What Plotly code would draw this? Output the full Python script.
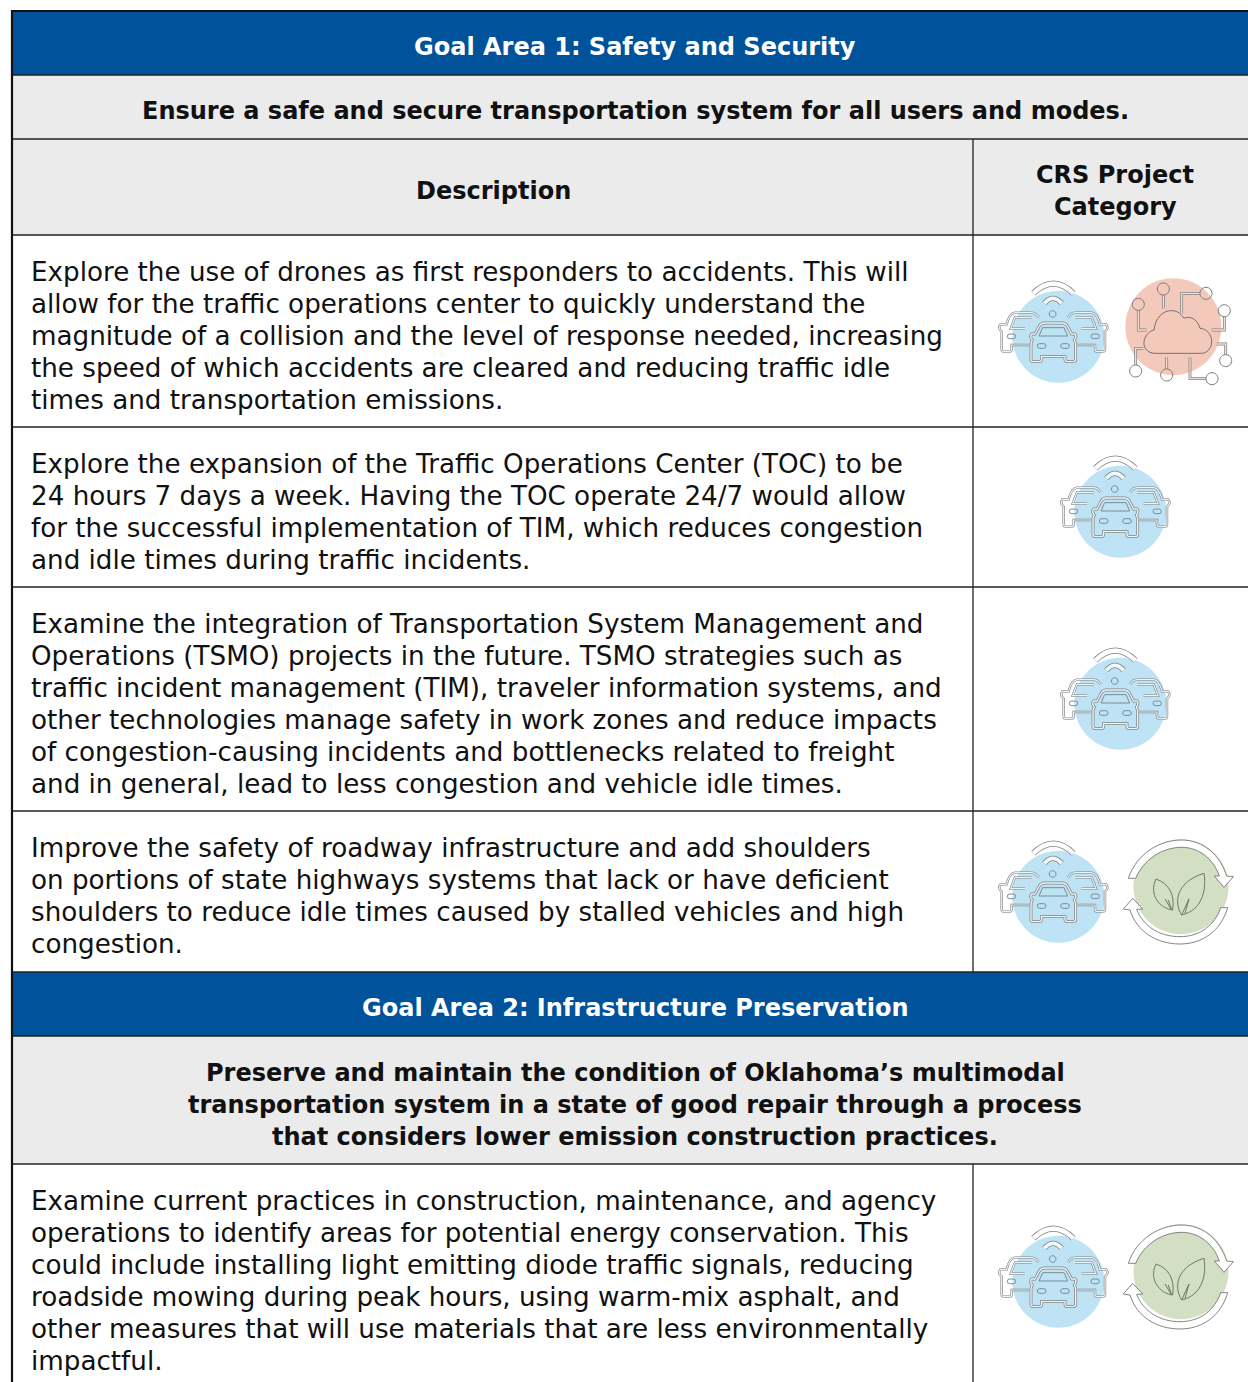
import plotly.graph_objects as go

FONT = "DejaVu Sans"
TEXT_SIZE = 26.2
HEAD_SIZE = 24
BLUE = "#00529B"
GREY = "#EBEBEB"

SECTION_1_TITLE = "Goal Area 1: Safety and Security"
SECTION_1_GOAL = ["Ensure a safe and secure transportation system for all users and modes."]
HEAD_DESCRIPTION = "Description"
HEAD_CATEGORY = ["CRS Project", "Category"]
ROW_1 = ["Explore the use of drones as first responders to accidents. This will",
         "allow for the traffic operations center to quickly understand the",
         "magnitude of a collision and the level of response needed, increasing",
         "the speed of which accidents are cleared and reducing traffic idle",
         "times and transportation emissions."]
ROW_2 = ["Explore the expansion of the Traffic Operations Center (TOC) to be",
         "24 hours 7 days a week. Having the TOC operate 24/7 would allow",
         "for the successful implementation of TIM, which reduces congestion",
         "and idle times during traffic incidents."]
ROW_3 = ["Examine the integration of Transportation System Management and",
         "Operations (TSMO) projects in the future. TSMO strategies such as",
         "traffic incident management (TIM), traveler information systems, and",
         "other technologies manage safety in work zones and reduce impacts",
         "of congestion-causing incidents and bottlenecks related to freight",
         "and in general, lead to less congestion and vehicle idle times."]
ROW_4 = ["Improve the safety of roadway infrastructure and add shoulders",
         "on portions of state highways systems that lack or have deficient",
         "shoulders to reduce idle times caused by stalled vehicles and high",
         "congestion."]
SECTION_2_TITLE = "Goal Area 2: Infrastructure Preservation"
SECTION_2_GOAL = ["Preserve and maintain the condition of Oklahoma’s multimodal",
                  "transportation system in a state of good repair through a process",
                  "that considers lower emission construction practices."]
ROW_5 = ["Examine current practices in construction, maintenance, and agency",
         "operations to identify areas for potential energy conservation. This",
         "could include installing light emitting diode traffic signals, reducing",
         "roadside mowing during peak hours, using warm-mix asphalt, and",
         "other measures that will use materials that are less environmentally",
         "impactful."]

LEFT, SPLIT, RIGHT = 12, 973, 1248
RULES = [75, 139, 235, 427, 587, 811, 972, 1036, 1164]

fig = go.Figure()
shapes, notes = [], []


def rect(x0, y0, x1, y1, fill):
    shapes.append(dict(type="rect", x0=x0, y0=y0, x1=x1, y1=y1, fillcolor=fill,
                       line=dict(width=0), layer="below"))


def rule(x0, y0, x1, y1, color="#222222", width=1.3):
    shapes.append(dict(type="line", x0=x0, y0=y0, x1=x1, y1=y1, line=dict(color=color, width=width)))


def write(lines, x, y0, size=TEXT_SIZE, bold=False, color="#111111", anchor="left", step=32):
    for i, line in enumerate(lines):
        notes.append(dict(x=x, y=y0 + i * step, text=f"<b>{line}</b>" if bold else line,
                          xanchor=anchor, yanchor="middle", showarrow=False, borderpad=0,
                          font=dict(family=FONT, size=size, color=color)))


rect(LEFT, 11, RIGHT, 75, BLUE)
rect(LEFT, 75, RIGHT, 235, GREY)
rect(LEFT, 972, RIGHT, 1036, BLUE)
rect(LEFT, 1036, RIGHT, 1164, GREY)

write([SECTION_1_TITLE], 635, 47, HEAD_SIZE, True, "white", "center")
write(SECTION_1_GOAL, 635, 111, HEAD_SIZE, True, "#111111", "center")
write([HEAD_DESCRIPTION], 493, 191, HEAD_SIZE, True, "#111111", "center")
write(HEAD_CATEGORY, 1115, 175, HEAD_SIZE, True, "#111111", "center")
write(ROW_1, 30, 272)
write(ROW_2, 30, 464)
write(ROW_3, 30, 624)
write(ROW_4, 30, 848)
write([SECTION_2_TITLE], 635, 1008, HEAD_SIZE, True, "white", "center")
write(SECTION_2_GOAL, 635, 1073, HEAD_SIZE, True, "#111111", "center")
write(ROW_5, 30, 1201)


def path_at(d, dx, dy):
    """d is a list of (cmd, x, y, ...) drawn on a 3x local grid."""
    out = []
    for seg in d:
        cmd, nums = seg[0], seg[1:]
        pts = []
        for i in range(0, len(nums), 2):
            pts += [f"{nums[i] / 3 + dx:.2f}", f"{nums[i + 1] / 3 + dy:.2f}"]
        out.append(cmd + " " + " ".join(pts))
    return " ".join(out)


def mirror(d, axis=220):
    out = []
    for seg in d:
        nums = list(seg[1:])
        for i in range(0, len(nums), 2):
            nums[i] = 2 * axis - nums[i]
        out.append((seg[0], *nums))
    return out


def ring(cx, cy, r):
    k = r * 0.5523
    return [("M", cx - r, cy), ("C", cx - r, cy - k, cx - k, cy - r, cx, cy - r),
            ("C", cx + k, cy - r, cx + r, cy - k, cx + r, cy),
            ("C", cx + r, cy + k, cx + k, cy + r, cx, cy + r),
            ("C", cx - k, cy + r, cx - r, cy + k, cx - r, cy), ("Z",)]


def rrect(x0, y0, x1, y1):
    r = (y1 - y0) / 2
    return [("M", x0 + r, y0), ("L", x1 - r, y0), ("Q", x1, y0, x1, y0 + r), ("Q", x1, y1, x1 - r, y1),
            ("L", x0 + r, y1), ("Q", x0, y1, x0, y0 + r), ("Q", x0, y0, x0 + r, y0), ("Z",)]


def tube(d, dx, dy, core, outer=3.3, inner=1.7):
    p = path_at(d, dx, dy)
    shapes.append(dict(type="path", path=p, line=dict(color="#808080", width=outer)))
    shapes.append(dict(type="path", path=p, line=dict(color=core, width=inner)))


def thin(d, dx, dy, fill=None, width=0.9, color="#777777"):
    s = dict(type="path", path=path_at(d, dx, dy), line=dict(color=color, width=width))
    if fill:
        s["fillcolor"] = fill
    shapes.append(s)


FRONT_CAR = [("M", 165, 222), ("L", 178, 198), ("Q", 183, 189, 195, 189), ("L", 245, 189),
             ("Q", 257, 189, 262, 198), ("L", 275, 222), ("L", 285, 222), ("Q", 292, 230, 283, 240),
             ("L", 287, 250), ("L", 287, 298), ("Q", 287, 305, 280, 305), ("L", 262, 305),
             ("Q", 255, 305, 255, 298), ("L", 255, 290), ("L", 185, 290), ("L", 185, 298),
             ("Q", 185, 305, 178, 305), ("L", 160, 305), ("Q", 153, 305, 153, 298), ("L", 153, 250),
             ("L", 157, 240), ("Q", 148, 230, 155, 222), ("Z",)]
WINDSHIELD = [("M", 177, 228), ("L", 188, 203), ("L", 252, 203), ("L", 263, 228), ("Z",)]
BACK_CAR = [("M", 175, 172), ("Q", 170, 158, 150, 158), ("L", 105, 158), ("Q", 88, 160, 80, 193),
            ("L", 62, 193), ("Q", 52, 205, 65, 215), ("L", 65, 268), ("Q", 65, 275, 72, 275),
            ("L", 88, 275), ("Q", 95, 275, 95, 268), ("L", 95, 255), ("L", 148, 255)]
BACK_GLASS = [("M", 155, 172), ("L", 105, 172), ("L", 92, 206), ("L", 135, 206)]
WIFI_OUT = [("M", 160, 100), ("Q", 220, 42, 280, 100)]
WIFI_MID = [("M", 193, 130), ("Q", 219, 100, 245, 130)]


def car_icon(dx, dy, circle_fill="#BDE3F5", core="#E9F5FB"):
    cx, cy = 235 / 3 + dx, 230 / 3 + dy
    shapes.append(dict(type="circle", x0=cx - 46, x1=cx + 46, y0=cy - 46, y1=cy + 46,
                       fillcolor=circle_fill, line=dict(width=0)))
    for d in (BACK_CAR, mirror(BACK_CAR), BACK_GLASS, mirror(BACK_GLASS)):
        tube(d, dx, dy, core, 2.4, 1.2)
    tube(FRONT_CAR, dx, dy, core, 2.8, 1.4)
    thin(WINDSHIELD, dx, dy, width=1.0, color="#7D8C93")
    for d in (rrect(172, 251, 198, 265), rrect(242, 251, 268, 265), rrect(82, 222, 107, 236),
              rrect(333, 222, 358, 236)):
        thin(d, dx, dy, width=1.0, color="#7D8C93")
    tube(WIFI_OUT, dx, dy, "#FBFDFE", 6.0, 4.4)
    tube(WIFI_MID, dx, dy, "#F2F9FC", 5.4, 3.8)
    thin(ring(218, 162, 10), dx, dy, width=1.0, color="#7D8C93")


CLOUD = [("M", 525, 280), ("C", 500, 280, 490, 260, 492, 245), ("C", 495, 225, 510, 212, 522, 210),
         ("C", 525, 175, 550, 150, 575, 152), ("C", 595, 152, 605, 165, 612, 175),
         ("C", 630, 165, 655, 180, 660, 205), ("C", 680, 205, 695, 225, 695, 245),
         ("C", 695, 265, 680, 280, 665, 280), ("Z",)]
CLOUD_LINKS = [
    (550, 87, [("M", 550, 105), ("L", 550, 145)]),
    (475, 133, [("M", 475, 151), ("L", 475, 210), ("L", 500, 210)]),
    (678, 100, [("M", 660, 100), ("L", 605, 100), ("L", 605, 160)]),
    (733, 152, [("M", 733, 170), ("L", 733, 210), ("L", 695, 210)]),
    (737, 302, [("M", 737, 284), ("L", 737, 252), ("L", 710, 252)]),
    (696, 356, [("M", 678, 356), ("L", 630, 356), ("L", 630, 292)]),
    (560, 345, [("M", 560, 327), ("L", 560, 292)]),
    (467, 333, [("M", 467, 315), ("L", 467, 265), ("L", 490, 265)]),
]


def cloud_icon(dx, dy):
    cx, cy = 580 / 3 + dx, 200 / 3 + dy
    shapes.append(dict(type="circle", x0=cx - 48, x1=cx + 48, y0=cy - 48.5, y1=cy + 48.5,
                       fillcolor="#F2C9BA", line=dict(width=0)))
    thin(CLOUD, dx, dy, width=1.0, color="#7A6F6C")
    for nx, ny, link in CLOUD_LINKS:
        tube(link, dx, dy, "#F7DED5", 2.8, 1.3)
        thin(ring(nx, ny, 18), dx, dy, width=1.0, color="#7A7A7A")


RING_TOP = [("M", 445, 160), ("C", 470, 85, 540, 45, 605, 45), ("C", 670, 45, 720, 90, 740, 153),
            ("L", 760, 155), ("L", 732, 187), ("L", 703, 153), ("L", 718, 153),
            ("C", 700, 100, 655, 67, 605, 67), ("C", 545, 67, 490, 105, 467, 160), ("Z",)]
RING_LOW = [("M", 743, 248), ("C", 722, 320, 665, 357, 600, 357), ("C", 530, 357, 470, 320, 450, 255),
            ("L", 430, 252), ("L", 458, 220), ("L", 488, 252), ("L", 470, 253),
            ("C", 490, 305, 540, 335, 600, 335), ("C", 660, 335, 705, 300, 722, 248), ("Z",)]
LEAF_L = [("M", 528, 162), ("C", 565, 175, 585, 205, 578, 255), ("C", 540, 250, 505, 210, 528, 162), ("Z",)]
VEIN_L = [("M", 555, 222), ("L", 575, 255), ("L", 565, 225)]
LEAF_R = [("M", 672, 145), ("C", 680, 200, 665, 255, 605, 270), ("C", 580, 230, 590, 170, 672, 145), ("Z",)]
VEIN_R = [("M", 605, 270), ("L", 627, 222), ("L", 615, 265)]


def leaf_icon(dx, dy):
    cx, cy = 603 / 3 + dx, 185 / 3 + dy
    shapes.append(dict(type="circle", x0=cx - 47.5, x1=cx + 47.5, y0=cy - 47.5, y1=cy + 47.5,
                       fillcolor="#D2DFC3", line=dict(width=0)))
    thin(RING_TOP, dx, dy, fill="white")
    thin(RING_LOW, dx, dy, fill="white")
    for d in (LEAF_L, VEIN_L, LEAF_R, VEIN_R):
        thin(d, dx, dy, width=0.9, color="#5F6F5A")


car_icon(980, 260)
cloud_icon(980, 260)
car_icon(1042, 435)
car_icon(1042, 627)
car_icon(980, 820)
leaf_icon(980, 825)
car_icon(980, 1205)
leaf_icon(980, 1210)

for y in RULES:
    rule(LEFT, y, RIGHT, y)
rule(LEFT, 11, RIGHT, 11, "#111111", 2.2)
rule(12, 10, 12, 1382, "#111111", 2.2)
rule(SPLIT, 139, SPLIT, 972)
rule(SPLIT, 1164, SPLIT, 1382)

fig.update_layout(
    width=1248, height=1382, margin=dict(l=0, r=0, t=0, b=0),
    paper_bgcolor="white", plot_bgcolor="white", showlegend=False,
    xaxis=dict(range=[0, 1248], visible=False, fixedrange=True),
    yaxis=dict(range=[1382, 0], visible=False, fixedrange=True),
    shapes=shapes, annotations=notes,
)
fig.write_html("out.html", post_script="document.body.style.margin='0';", config={"displayModeBar": False})
